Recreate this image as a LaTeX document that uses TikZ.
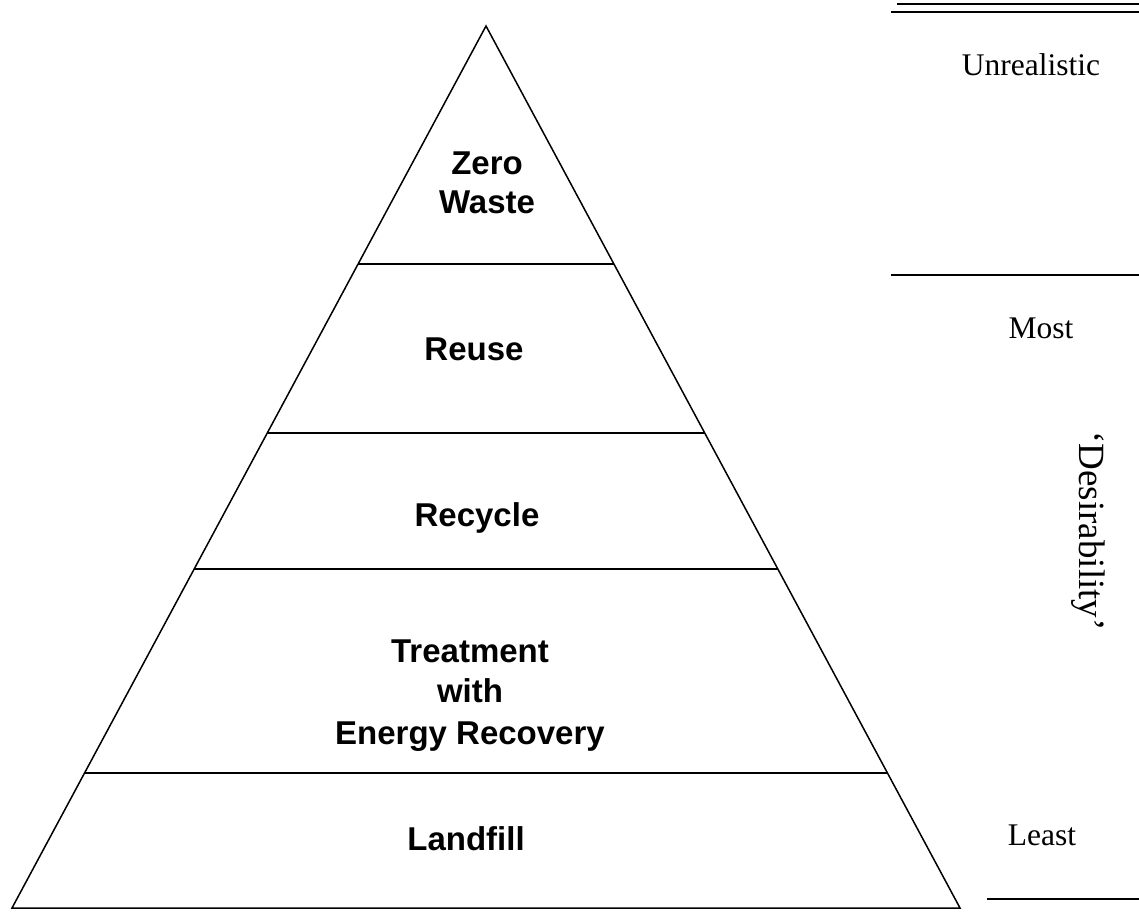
\documentclass[tikz,border=0pt]{standalone}
\usepackage{fontspec}
\setmainfont{Liberation Serif}
\newfontfamily\arialfont{Liberation Sans}
\tikzset{
  edge/.style={line width=1.5pt, line join=miter},
  rule/.style={line width=1.4pt},
  tier/.style={font=\arialfont\bfseries\fontsize{33}{39}\selectfont, anchor=base, inner sep=0pt},
  side/.style={font=\fontsize{31.5}{36}\selectfont, anchor=base, inner sep=0pt},
}
\begin{document}
\begin{tikzpicture}[x=1pt, y=-1pt]
\useasboundingbox (0,0) rectangle (1139,913);
% pyramid
\coordinate (apex) at (486,26);
\coordinate (bl) at (12,908);
\coordinate (br) at (960,908);
\draw[edge] (apex) -- (br) -- (bl) -- cycle;
\coordinate (l1) at (358.1,264); \coordinate (r1) at (613.9,264);
\coordinate (l2) at (267.3,433); \coordinate (r2) at (704.7,433);
\coordinate (l3) at (194.2,569); \coordinate (r3) at (777.8,569);
\coordinate (l4) at (84.6,773);  \coordinate (r4) at (887.4,773);
\draw[edge] (l1) -- (r1);
\draw[edge] (l2) -- (r2);
\draw[edge] (l3) -- (r3);
\draw[edge] (l4) -- (r4);
% tier labels
\node[tier] (zero) at (487,174) {Zero};
\node[tier] (waste) at (487,213) {Waste};
\node[tier] (reuse) at (474,360) {Reuse};
\node[tier] (recycle) at (477,526) {Recycle};
\node[tier] (treat) at (470,662) {Treatment};
\node[tier] (with) at (470,702) {with};
\node[tier] (energy) at (470,744) {Energy Recovery};
\node[tier] (landfill) at (466,850) {Landfill};
% right scale
\coordinate (t1a) at (897,4);   \coordinate (t1b) at (1139,4);
\coordinate (t2a) at (891,12);  \coordinate (t2b) at (1139,12);
\coordinate (m1a) at (891,275); \coordinate (m1b) at (1139,275);
\coordinate (b1a) at (987,899); \coordinate (b1b) at (1139,899);
\draw[rule] (t1a) -- (t1b);
\draw[rule] (t2a) -- (t2b);
\draw[rule] (m1a) -- (m1b);
\draw[rule] (b1a) -- (b1b);
\node[side] (unreal) at (1031,75.5) {Unrealistic};
\node[side] (most) at (1041,338) {Most};
\node[side] (least) at (1042,845) {Least};
\node[font=\fontsize{37}{40}\selectfont, rotate=-90, inner sep=0pt] (desir) at (1088.5,531) {‘Desirability’};
\end{tikzpicture}
\end{document}
